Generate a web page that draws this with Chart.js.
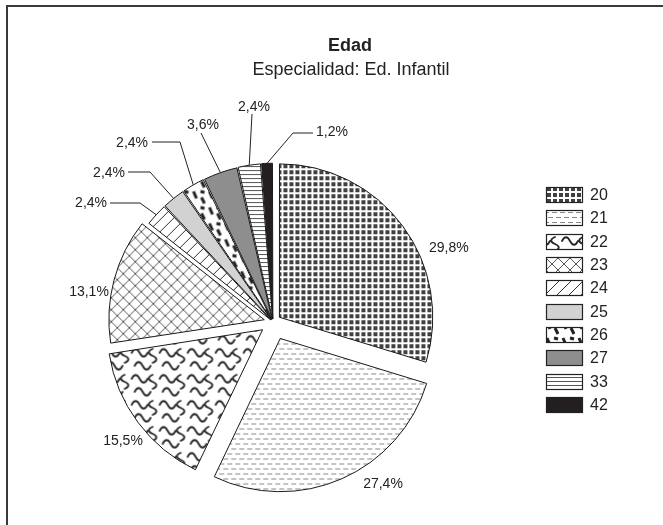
<!DOCTYPE html>
<html>
<head>
<meta charset="utf-8">
<script src="https://cdn.jsdelivr.net/npm/chart.js@4.4.1/dist/chart.umd.min.js"></script>
<style>
html, body { margin: 0; padding: 0; background: #fff; }
#wrap { position: relative; width: 663px; height: 525px; overflow: hidden; }
#marco { position: absolute; left: 6px; top: 5px; width: 700px; height: 600px; border-top: 2px solid #3a3a3a; border-left: 2px solid #3a3a3a; }
canvas { position: absolute; left: 0; top: 0; }
</style>
</head>
<body>
<div id="wrap">
  <div id="marco"></div>
  <canvas id="edadChart" width="663" height="525"></canvas>
</div>
<script>
// Datos del gráfico
const edades = ['20', '21', '22', '23', '24', '25', '26', '27', '33', '42'];
const porcentajes = [29.8, 27.4, 15.5, 13.1, 2.4, 2.4, 2.4, 3.6, 2.4, 1.2];
const titulo = 'Edad';
const subtitulo = 'Especialidad: Ed. Infantil';

const FUENTE = '"Liberation Sans", Arial, sans-serif';
const TINTA = '#222';

// Crear una trama a partir de un lienzo pequeño
function trama(w, h, dibujar) {
    const c = document.createElement('canvas');
    c.width = w;
    c.height = h;
    const g = c.getContext('2d');
    g.fillStyle = '#fff';
    g.fillRect(0, 0, w, h);
    dibujar(g);
    return g.createPattern(c, 'repeat');
}

// Onda horizontal de largo 16
function onda(g, x, y) {
    g.moveTo(x, y);
    g.bezierCurveTo(x + 2.5, y - 5, x + 5.5, y - 5, x + 8, y);
    g.bezierCurveTo(x + 10.5, y + 5, x + 13.5, y + 5, x + 16, y);
}

const rellenos = [
    // 20: cuadrícula oscura
    trama(6, 6, g => { g.fillStyle = '#404040'; g.fillRect(1, 1, 4, 4); }),
    // 21: guiones horizontales
    trama(8, 10, g => {
        g.strokeStyle = '#8a8a8a'; g.lineWidth = 1;
        g.beginPath();
        g.moveTo(0, 2.5); g.lineTo(5, 2.5);
        g.moveTo(4, 7.5); g.lineTo(8, 7.5);
        g.moveTo(0, 7.5); g.lineTo(1, 7.5);
        g.stroke();
    }),
    // 22: ondas
    trama(28, 26, g => {
        g.strokeStyle = '#262626'; g.lineWidth = 1.8; g.lineCap = 'round';
        g.beginPath();
        onda(g, 2, 7);
        g.moveTo(23, 3);
        g.bezierCurveTo(18, 5, 18, 8, 23, 10);
        g.bezierCurveTo(28, 12, 28, 15, 23, 17);
        onda(g, 5, 20);
        g.stroke();
    }),
    // 23: rombos
    trama(12, 12, g => {
        g.strokeStyle = '#444'; g.lineWidth = 0.9;
        g.beginPath();
        g.moveTo(0, 0); g.lineTo(12, 12);
        g.moveTo(12, 0); g.lineTo(0, 12);
        g.stroke();
    }),
    // 24: diagonales
    trama(12, 12, g => {
        g.strokeStyle = '#333'; g.lineWidth = 1;
        g.beginPath();
        g.moveTo(0, 12); g.lineTo(12, 0);
        g.moveTo(-1, 1); g.lineTo(1, -1);
        g.moveTo(11, 13); g.lineTo(13, 11);
        g.stroke();
    }),
    // 25: gris claro
    '#d2d2d2',
    // 26: trazos gruesos
    trama(16, 16, g => {
        g.strokeStyle = '#222'; g.lineWidth = 3;
        g.beginPath();
        g.moveTo(3, 2); g.lineTo(6, 9);
        g.moveTo(11, 8); g.lineTo(14, 14);
        g.moveTo(10, 2); g.lineTo(14, 3);
        g.stroke();
    }),
    // 27: gris medio
    '#8e8e8e',
    // 33: líneas horizontales
    trama(4, 4, g => { g.fillStyle = '#555'; g.fillRect(0, 1, 4, 1); }),
    // 42: negro
    '#231f20'
];

// Posición de las etiquetas y de sus líneas guía
const colocacion = [
    { x: 429, y: 248, align: 'left' },
    { x: 383, y: 484, align: 'center' },
    { x: 123, y: 441, align: 'center' },
    { x: 89, y: 292, align: 'center' },
    { x: 107, y: 203, align: 'right', linea: [[110, 203], [140, 203]] },
    { x: 125, y: 173, align: 'right', linea: [[128, 172], [150, 172]] },
    { x: 148, y: 143, align: 'right', linea: [[152, 142], [180, 142]] },
    { x: 203, y: 125, align: 'center', linea: [[201, 133]] },
    { x: 254, y: 107, align: 'center', linea: [[252, 114]] },
    { x: 316, y: 132, align: 'left', linea: [[313, 133], [293, 133]] }
];

function formato(v) {
    return v.toFixed(1).replace('.', ',') + '%';
}

// Punto del borde exterior de cada porción (teniendo en cuenta el desplazamiento)
function puntoBorde(arc) {
    const mid = (arc.startAngle + arc.endAngle) / 2;
    const d = (arc.options.offset || 0) / 4;
    const fix = 1 - Math.sin(Math.min(Math.PI, arc.circumference));
    const r = arc.outerRadius + d * fix;
    return { x: arc.x + Math.cos(mid) * (d + r), y: arc.y + Math.sin(mid) * (d + r) };
}

const decorado = {
    id: 'decorado',
    afterDraw(chart) {
        const ctx = chart.ctx;
        ctx.save();
        ctx.fillStyle = TINTA;
        ctx.textBaseline = 'middle';

        // Título y subtítulo
        ctx.textAlign = 'center';
        ctx.font = 'bold 18px ' + FUENTE;
        ctx.fillText(titulo, 350, 46);
        ctx.font = '18px ' + FUENTE;
        ctx.fillText(subtitulo, 351, 70);

        // Etiquetas de porcentaje
        const arcos = chart.getDatasetMeta(0).data;
        ctx.font = '14px ' + FUENTE;
        ctx.strokeStyle = TINTA;
        ctx.lineWidth = 1;
        porcentajes.forEach((v, i) => {
            const p = colocacion[i];
            ctx.textAlign = p.align;
            ctx.fillText(formato(v), p.x, p.y);
            if (p.linea) {
                const b = puntoBorde(arcos[i]);
                ctx.beginPath();
                ctx.moveTo(p.linea[0][0], p.linea[0][1]);
                p.linea.slice(1).forEach(q => ctx.lineTo(q[0], q[1]));
                ctx.lineTo(b.x, b.y);
                ctx.stroke();
            }
        });

        // Leyenda
        ctx.font = '16px ' + FUENTE;
        ctx.textAlign = 'left';
        edades.forEach((e, i) => {
            const y = Math.round(187 + i * 23.35);
            ctx.fillStyle = rellenos[i];
            ctx.fillRect(546, y, 37, 16);
            ctx.strokeStyle = '#222';
            ctx.lineWidth = 1.2;
            ctx.strokeRect(546.5, y + 0.5, 36, 15);
            ctx.fillStyle = TINTA;
            ctx.fillText(e, 590, y + 8.5);
        });
        ctx.restore();
    }
};

const edadCtx = document.getElementById('edadChart').getContext('2d');
const edadChart = new Chart(edadCtx, {
    type: 'pie',
    data: {
        labels: edades,
        datasets: [{
            data: porcentajes,
            backgroundColor: rellenos,
            borderColor: '#1a1a1a',
            borderWidth: 1,
            offset: [32, 72, 52, 36, 12, 12, 12, 12, 12, 12],
            radius: 153
        }]
    },
    options: {
        responsive: false,
        animation: false,
        events: [],
        layout: {
            padding: { left: 0, right: 117, top: 119, bottom: 0 }
        },
        plugins: {
            legend: { display: false },
            tooltip: { enabled: false }
        }
    },
    plugins: [decorado]
});
</script>
</body>
</html>
